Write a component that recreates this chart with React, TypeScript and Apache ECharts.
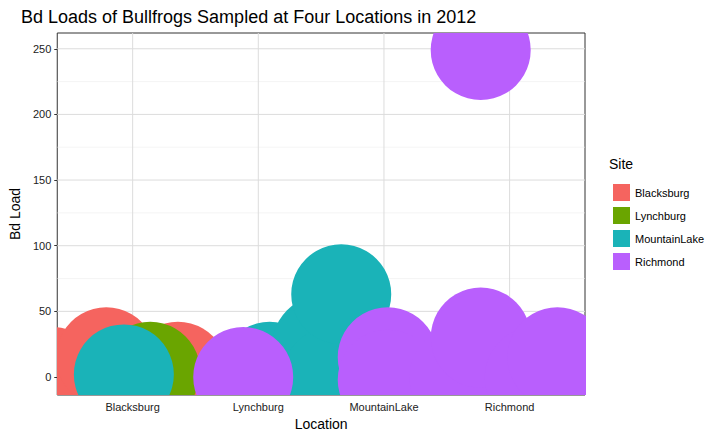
import { useEffect, useRef } from "react"
import * as echarts from "echarts"

const categories = ["Blacksburg", "Lynchburg", "MountainLake", "Richmond"]
const sites = ["Blacksburg", "Lynchburg", "MountainLake", "Richmond"]
const colors = ["#f5645f", "#6aa500", "#1ab3b8", "#b95ffd"]
const xTicks = [1, 2, 3, 4]
const yTicks = [0, 50, 100, 150, 200, 250]
const yMinor = [25, 75, 125, 175, 225]

// [jittered x position, Bd load]
const blacksburg = [[0.36, 0], [0.79, 15], [1.36, 4]]
const lynchburg = [[1.14, 4], [2.27, 3]]
const mountainLake = [[0.93, 2], [2.09, 4], [2.51, 24], [2.59, 0], [2.66, 63]]
const richmond = [[1.88, 0], [3.03, 15], [3.03, -2], [3.6, 0], [3.77, 30], [4.2, 0], [4.38, 15], [3.77, 249]]

const seriesData = [blacksburg, lynchburg, mountainLake, richmond]

export default function App() {
  const ref = useRef<HTMLDivElement>(null)

  useEffect(() => {
    if (!ref.current) return
    const chart = echarts.init(ref.current, null, { renderer: "svg" })

    const gridLines: any[] = [
      ...yMinor.map((v) => ["y", v, 0]),
      ...yTicks.map((v) => ["y", v, 1]),
      ...xTicks.map((v) => ["x", v, 1]),
    ]

    const series: any[] = [
      {
        type: "custom",
        silent: true,
        z: 1,
        data: gridLines,
        renderItem: (params: any, api: any) => {
          const cs = params.coordSys
          const kind = gridLines[params.dataIndex][0]
          const v = api.value(1)
          const major = api.value(2) === 1
          const style = { stroke: major ? "#dcdcdc" : "#efefef", lineWidth: major ? 1 : 0.6 }
          if (kind === "y") {
            const y = api.coord([1, v])[1]
            return { type: "line", shape: { x1: cs.x, y1: y, x2: cs.x + cs.width, y2: y }, style }
          }
          const x = api.coord([v, 0])[0]
          return { type: "line", shape: { x1: x, y1: cs.y, x2: x, y2: cs.y + cs.height }, style }
        },
      },
      ...seriesData.map((d, i) => ({
        name: sites[i],
        type: "custom",
        data: d,
        clip: true,
        z: 3,
        itemStyle: { color: colors[i] },
        renderItem: (_params: any, api: any) => {
          const p = api.coord([api.value(0), api.value(1)])
          return { type: "circle", shape: { cx: p[0], cy: p[1], r: 50 }, style: { fill: colors[i] } }
        },
      })),
    ]

    chart.setOption({
      animation: false,
      textStyle: { fontFamily: "Liberation Sans, Arial, sans-serif" },
      title: {
        text: "Bd Loads of Bullfrogs Sampled at Four Locations in 2012",
        left: 16,
        top: 3,
        textStyle: { fontSize: 18, fontWeight: "normal", color: "#000" },
      },
      grid: { left: 52, right: 140, top: 33, bottom: 43, show: true, borderColor: "#333", borderWidth: 1, backgroundColor: "#fff" },
      legend: {
        data: sites.map((s, i) => ({ name: s, itemStyle: { color: colors[i] } })),
        orient: "vertical",
        left: 608,
        top: 179,
        icon: "rect",
        itemWidth: 17,
        itemHeight: 17,
        itemGap: 6,
        textStyle: { fontSize: 11, color: "#000" },
      },
      graphic: [{ type: "text", left: 609, top: 157, style: { text: "Site", fontSize: 14, fill: "#000", fontFamily: "Liberation Sans, Arial, sans-serif" } }],
      xAxis: {
        type: "value",
        min: 0.4,
        max: 4.6,
        name: "Location",
        nameLocation: "middle",
        nameGap: 22,
        nameTextStyle: { fontSize: 14, color: "#000" },
        axisLine: { show: false },
        axisTick: { show: true, customValues: xTicks, length: 3, lineStyle: { color: "#333" } },
        axisLabel: { customValues: xTicks, formatter: (v: number) => categories[Math.round(v) - 1] ?? "", color: "#222", fontSize: 11, margin: 6 },
        splitLine: { show: false },
      },
      yAxis: {
        type: "value",
        min: -13.7,
        max: 262,
        name: "Bd Load",
        nameLocation: "middle",
        nameGap: 32,
        nameTextStyle: { fontSize: 14, color: "#000" },
        axisLine: { show: false },
        axisTick: { show: true, customValues: yTicks, length: 3, lineStyle: { color: "#333" } },
        axisLabel: { customValues: yTicks, color: "#222", fontSize: 11, margin: 6 },
        splitLine: { show: false },
      },
      series,
    })
    return () => chart.dispose()
  }, [])

  return <div ref={ref} style={{ position: "absolute", left: 0, top: 0, width: 725, height: 438 }} />
}
